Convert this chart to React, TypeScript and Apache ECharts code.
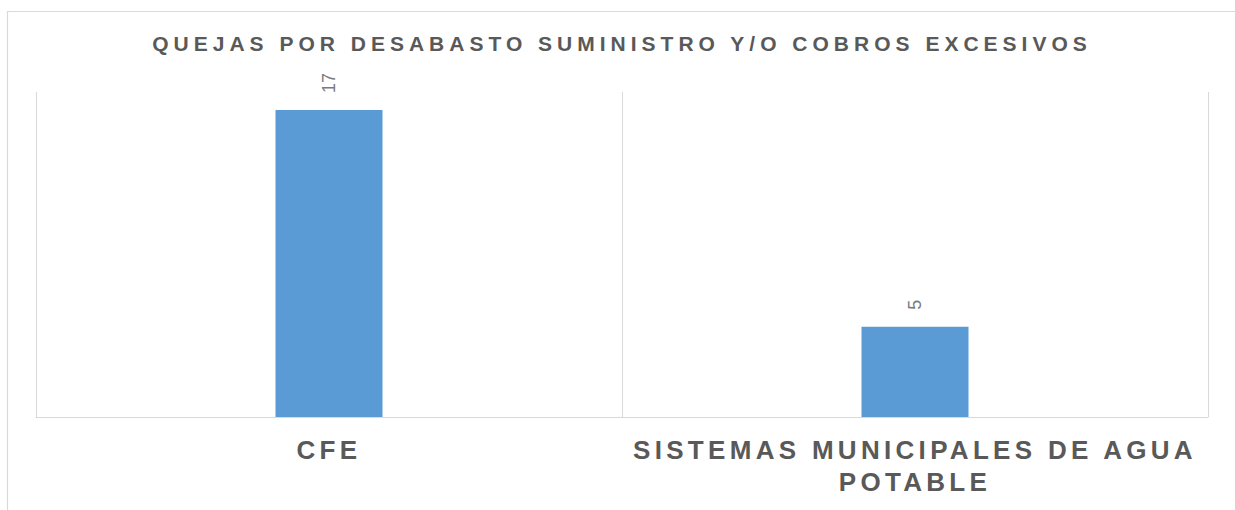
import React, { useEffect, useRef } from "react";
import * as echarts from "echarts";

const TITLE = "QUEJAS POR DESABASTO SUMINISTRO Y/O COBROS EXCESIVOS";
const categories = ["CFE", "SISTEMAS MUNICIPALES DE AGUA POTABLE"];
const values = [17, 5];
const yMax = 18;

const FONT = "'Liberation Sans', Arial, sans-serif";

function wrap(label: string, maxChars: number): string {
  const words = label.split(" ");
  const lines: string[] = [];
  let cur = "";
  for (const w of words) {
    const next = cur ? cur + " " + w : w;
    if (next.length > maxChars && cur) {
      lines.push(cur);
      cur = w;
    } else cur = next;
  }
  if (cur) lines.push(cur);
  return lines.join("\n");
}

export default function App() {
  const ref = useRef<HTMLDivElement>(null);
  useEffect(() => {
    if (!ref.current) return;
    const chart = echarts.init(ref.current, null, { renderer: "svg" });
    chart.setOption({
      animation: false,
      title: {
        text: TITLE,
        left: 622,
        top: 33,
        padding: 0,
        textAlign: "center",
        textStyle: { fontFamily: FONT, fontSize: 21, fontWeight: "bold", color: "#595959" },
      },
      graphic: [
        {
          type: "rect",
          shape: { x: 7.5, y: 11.5, width: 1400, height: 700 },
          style: { fill: "none", stroke: "#d9d9d9", lineWidth: 1.2 },
          silent: true,
          z: -1,
        },
      ],
      grid: { left: 36, right: 27, top: 92, bottom: 93, containLabel: false },
      xAxis: {
        type: "category",
        data: categories,
        axisLine: { show: true, lineStyle: { color: "#d9d9d9", width: 1 } },
        axisTick: { show: false },
        splitLine: { show: true, lineStyle: { color: "#d9d9d9", width: 1 } },
        axisLabel: {
          interval: 0,
          margin: 17,
          fontFamily: FONT,
          fontSize: 26,
          fontWeight: "bold",
          color: "#595959",
          lineHeight: 32,
          formatter: (v: string) => wrap(v, 30),
        },
      },
      yAxis: {
        type: "value",
        min: 0,
        max: yMax,
        show: false,
        splitLine: { show: false },
      },
      series: [
        {
          type: "bar",
          data: values,
          barWidth: 107,
          itemStyle: { color: "#5b9bd5" },
          label: {
            show: true,
            position: "top",
            rotate: 90,
            align: "left",
            verticalAlign: "middle",
            distance: 17,
            fontFamily: FONT,
            fontSize: 18,
            color: "#7a7a7a",
          },
        },
      ],
    });

    const applySpacing = () => {
      const el = ref.current;
      if (!el) return;
      el.querySelectorAll("text").forEach((t) => {
        const txt = (t.textContent || "").trim();
        if (txt === TITLE) t.setAttribute("letter-spacing", "5");
        else if (txt.length > 2 && /^[A-Z ]+$/.test(txt)) t.setAttribute("letter-spacing", "4.3");
      });
    };
    applySpacing();
    chart.on("finished", applySpacing);
    const raf = requestAnimationFrame(applySpacing);
    return () => {
      cancelAnimationFrame(raf);
      chart.dispose();
    };
  }, []);
  return (
    <div
      ref={ref}
      style={{ position: "absolute", left: 0, top: 0, width: 1235, height: 510 }}
    />
  );
}
